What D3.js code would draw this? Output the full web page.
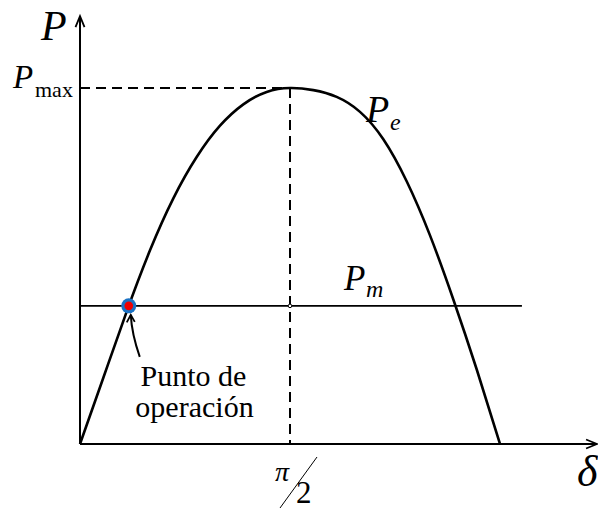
<!DOCTYPE html>
<html>
<head>
<meta charset="utf-8">
<script src="https://cdn.jsdelivr.net/npm/d3@7"></script>
<style>
  html, body { margin: 0; padding: 0; background: #fff; }
  svg { display: block; }
</style>
</head>
<body>
<svg id="chart" width="598" height="510"></svg>
<script>
// Power-angle curve: electrical power P_e versus rotor angle δ (degrees), in per-unit of P_max
const deltaDeg = [0, 10, 20, 30, 40, 50, 60, 70, 80, 90, 100, 110, 120, 130, 140, 150, 160, 170, 180];
const powerPu  = [0, 0.186, 0.372, 0.544, 0.69, 0.806, 0.894, 0.954, 0.989, 1, 0.994, 0.975, 0.933, 0.856, 0.738, 0.586, 0.406, 0.21, 0];

// Mechanical input power and the operating point where it meets P_e
const mechPower = 0.388;
const mechLineEnd = 189.4;       // δ where the P_m line stops
const operatingDelta = 20.9;
const peakDelta = 90;            // π/2
const axisDeltaEnd = 221.6;      // δ at the arrow tip
const axisPowerEnd = 1.202;      // P at the arrow tip

const SERIF = '"Liberation Serif", "DejaVu Serif", "Noto Serif", "Times New Roman", Tinos, "Noto Serif CJK SC", serif';

const svg = d3.select("#chart");

const x = d3.scaleLinear().domain([0, 180]).range([80, 500]);
const y = d3.scaleLinear().domain([0, 1]).range([444, 88]);

const points = deltaDeg.map((d, i) => ({ d, p: powerPu[i] }));

// Axes with open arrowheads
const axes = svg.append("g").attr("stroke", "#000").attr("fill", "none").attr("stroke-width", 2);
axes.append("line").attr("x1", x(0)).attr("y1", y(0)).attr("x2", x(0)).attr("y2", y(axisPowerEnd));
axes.append("line").attr("x1", x(0)).attr("y1", y(0)).attr("x2", x(axisDeltaEnd)).attr("y2", y(0));
axes.append("path")
  .attr("d", `M${x(0) - 4.5},${y(axisPowerEnd) + 11}L${x(0)},${y(axisPowerEnd)}L${x(0) + 4.5},${y(axisPowerEnd) + 11}`)
  .attr("stroke-width", 1.8);
axes.append("path")
  .attr("d", `M${x(axisDeltaEnd) - 11},${y(0) - 4.5}L${x(axisDeltaEnd)},${y(0)}L${x(axisDeltaEnd) - 11},${y(0) + 4.5}`)
  .attr("stroke-width", 1.8);

// Dashed guides to the maximum
const guides = svg.append("g").attr("stroke", "#000").attr("stroke-width", 2).attr("stroke-dasharray", "10,6");
guides.append("line").attr("x1", x(0)).attr("y1", y(1)).attr("x2", x(peakDelta)).attr("y2", y(1));
guides.append("line").attr("x1", x(peakDelta)).attr("y1", y(1)).attr("x2", x(peakDelta)).attr("y2", y(0));

// P_m line
svg.append("line")
  .attr("x1", x(0)).attr("y1", y(mechPower))
  .attr("x2", x(mechLineEnd)).attr("y2", y(mechPower))
  .attr("stroke", "#000").attr("stroke-width", 1.6);

// Small crossing marker on the dashed line
svg.append("circle")
  .attr("cx", x(peakDelta)).attr("cy", y(mechPower)).attr("r", 1.8)
  .attr("fill", "#fff").attr("stroke", "#000").attr("stroke-width", 1);

// P_e curve
const line = d3.line()
  .x(d => x(d.d))
  .y(d => y(d.p))
  .curve(d3.curveNatural);
svg.append("path")
  .datum(points)
  .attr("d", line)
  .attr("fill", "none")
  .attr("stroke", "#000")
  .attr("stroke-width", 2.6);

// Operating point
const ox = x(operatingDelta), oy = y(mechPower);
svg.append("circle").attr("cx", ox).attr("cy", oy).attr("r", 7.5).attr("fill", "#1a72c4");
svg.append("circle").attr("cx", ox).attr("cy", oy).attr("r", 4.3).attr("fill", "#f00000");

// Pointer from the caption up to the operating point
const tipX = ox + 2, tipY = oy + 9;
svg.append("path")
  .attr("d", `M${ox + 11},${oy + 51} Q${ox + 3},${oy + 28} ${tipX},${tipY}`)
  .attr("fill", "none").attr("stroke", "#000").attr("stroke-width", 2);
svg.append("path")
  .attr("d", `M${tipX - 4},${tipY + 7.5}L${tipX},${tipY}L${tipX + 4},${tipY + 7}`)
  .attr("fill", "none").attr("stroke", "#000").attr("stroke-width", 1.8);

// Labels
function label(xp, yp, size, italic) {
  return svg.append("text")
    .attr("x", xp).attr("y", yp)
    .attr("font-family", SERIF)
    .style("font-family", SERIF)
    .style("font-size", size + "px")
    .style("font-style", italic ? "italic" : "normal")
    .attr("fill", "#000");
}

label(41, 40, 42, true).text("P");

label(13, 88, 33, true).text("P");
label(35, 97, 22, false).text("max");

label(366, 122, 38, true).text("P");
label(390, 130, 24, true).text("e");

label(344, 290, 35, true).text("P");
label(366, 297, 24, true).text("m");

label(193.5, 386, 30, false).attr("text-anchor", "middle").text("Punto de");
label(194.5, 417, 30, false).attr("text-anchor", "middle").text("operación");

label(577, 486, 44, true).text("δ");

// π/2 tick label
label(275, 481, 28, true).text("π");
svg.append("line")
  .attr("x1", 317).attr("y1", 457).attr("x2", 280).attr("y2", 508)
  .attr("stroke", "#000").attr("stroke-width", 1);
label(296, 503, 31, false).text("2");
</script>
</body>
</html>
